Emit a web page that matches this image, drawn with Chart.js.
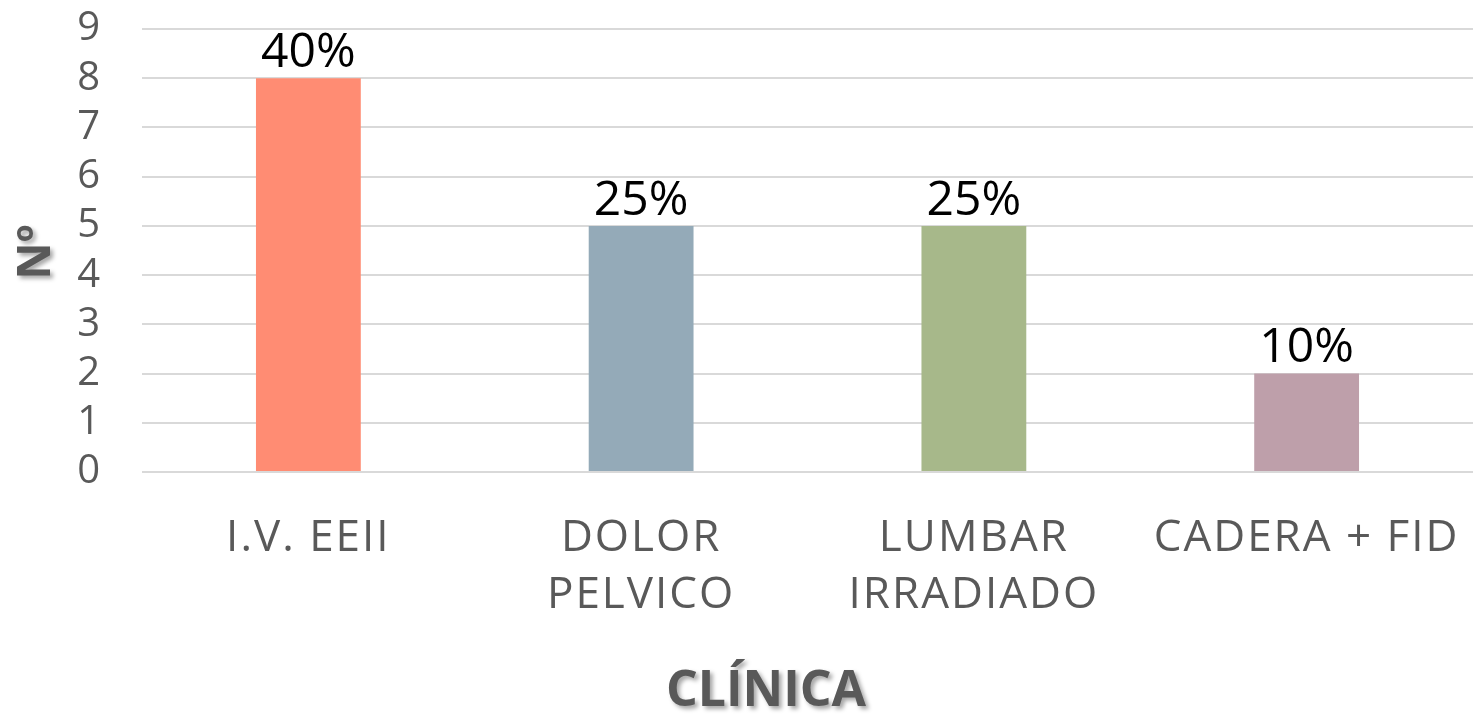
<!DOCTYPE html>
<html>
<head>
<meta charset="utf-8">
<script src="https://cdn.jsdelivr.net/npm/chart.js"></script>
<style>
  html, body { margin: 0; padding: 0; background: #ffffff; }
  #wrap { width: 1473px; height: 718px; }
</style>
</head>
<body>
<div id="wrap"><canvas id="chart" width="1473" height="718"></canvas></div>
<script>
// Data
const categories = [['I.V. EEII'], ['DOLOR', 'PELVICO'], ['LUMBAR', 'IRRADIADO'], ['CADERA + FID']];
const counts = [8, 5, 5, 2];
const percentLabels = ['40%', '25%', '25%', '10%'];
const barColors = ['#FF8C73', '#94AAB8', '#A7B88A', '#BE9FAA'];
const yTicks = [0, 1, 2, 3, 4, 5, 6, 7, 8, 9];

const xTitle = 'CLÍNICA';
const yTitle = 'Nº';

// value labels above the bars
const barLabelPlugin = {
  id: 'barLabels',
  afterDatasetsDraw(chart) {
    const ctx = chart.ctx;
    const meta = chart.getDatasetMeta(0);
    ctx.save();
    ctx.letterSpacing = '0px';
    ctx.font = '48px "Open Sans"';
    ctx.fillStyle = '#000000';
    ctx.textAlign = 'center';
    ctx.textBaseline = 'bottom';
    meta.data.forEach((bar, i) => {
      ctx.fillText(percentLabels[i], bar.x, bar.y - 1);
    });
    ctx.restore();
  }
};

// axis titles with a soft shadow
const axisTitlePlugin = {
  id: 'axisTitles',
  afterDraw(chart) {
    const ctx = chart.ctx;
    ctx.save();
    ctx.letterSpacing = '0px';
    ctx.shadowColor = 'rgba(0,0,0,0.35)';
    ctx.shadowOffsetX = 3;
    ctx.shadowOffsetY = 3;
    ctx.shadowBlur = 4;
    ctx.fillStyle = '#595959';
    ctx.textAlign = 'center';
    ctx.textBaseline = 'middle';
    ctx.font = 'bold 50px "Open Sans"';
    ctx.fillText(xTitle, 766, 692);
    ctx.translate(37, 252);
    ctx.rotate(-Math.PI / 2);
    ctx.font = 'bold 46px "Open Sans"';
    ctx.fillText(yTitle, 0, 0);
    ctx.restore();
  }
};

const spacingPlugin = {
  id: 'spacing',
  beforeDraw(chart) {
    chart.ctx.letterSpacing = '2px';
  }
};

new Chart(document.getElementById('chart'), {
  type: 'bar',
  data: {
    labels: categories,
    datasets: [{
      data: counts,
      backgroundColor: barColors,
      borderWidth: 0,
      categoryPercentage: 1,
      barPercentage: 0.315
    }]
  },
  options: {
    responsive: false,
    animation: false,
    devicePixelRatio: 1,
    layout: { padding: { top: 29, right: 0, bottom: 0, left: 0 } },
    plugins: {
      legend: { display: false },
      tooltip: { enabled: false }
    },
    scales: {
      x: {
        grid: { display: false, drawTicks: false },
        border: { display: false },
        ticks: {
          color: '#595959',
          font: { family: 'Open Sans', size: 44, lineHeight: 1.3 },
          padding: 38,
          maxRotation: 0,
          autoSkip: false
        },
        afterFit(scale) {
          scale.height = 246;
          scale.paddingLeft = 0;
          scale.paddingRight = 0;
        }
      },
      y: {
        min: 0,
        max: 9,
        afterBuildTicks(scale) { scale.ticks = yTicks.map(v => ({ value: v })); },
        grid: { color: '#d9d9d9', lineWidth: 2, drawTicks: false },
        border: { display: false },
        ticks: {
          color: '#595959',
          font: { family: 'Open Sans', size: 40 },
          padding: 40,
          autoSkip: false
        },
        afterFit(scale) {
          scale.width = 142;
          scale.paddingTop = 0;
          scale.paddingBottom = 0;
        }
      }
    }
  },
  plugins: [spacingPlugin, barLabelPlugin, axisTitlePlugin]
});
</script>
</body>
</html>
